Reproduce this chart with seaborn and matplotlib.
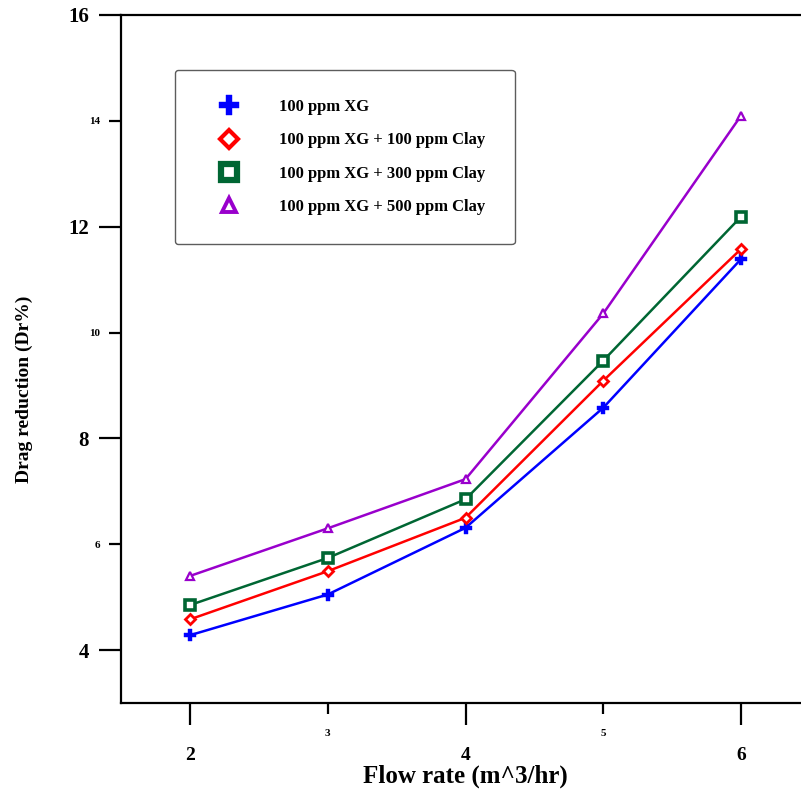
import matplotlib
matplotlib.use("Agg")
import matplotlib.pyplot as plt
from matplotlib.lines import Line2D
import seaborn as sns
import pandas as pd

flow_rate = [2, 3, 4, 5, 6]
xg = [4.28, 5.05, 6.31, 8.58, 11.39]
xg_clay100 = [4.58, 5.49, 6.50, 9.09, 11.58]
xg_clay300 = [4.85, 5.74, 6.85, 9.47, 12.19]
xg_clay500 = [5.40, 6.30, 7.23, 10.36, 14.10]
labels = ["100 ppm XG", "100 ppm XG + 100 ppm Clay",
          "100 ppm XG + 300 ppm Clay", "100 ppm XG + 500 ppm Clay"]

sns.set_theme(style="white")
plt.rcParams['font.family'] = ['Liberation Serif', 'DejaVu Serif']
plt.rcParams['xtick.bottom'] = True
plt.rcParams['ytick.left'] = True
plt.rcParams['text.color'] = 'black'
plt.rcParams['axes.labelcolor'] = 'black'
plt.rcParams['axes.labelweight'] = 'bold'

fig = plt.figure(figsize=(8.01, 7.93), dpi=100)
ax = fig.add_axes([121/801, 90/793, 689/801, 688/793])

series = [xg, xg_clay100, xg_clay300, xg_clay500]
colors = ["#0000FF", "#FF0000", "#006633", "#9900CC"]
styles = [dict(marker="P", markersize=8, markerfacecolor="#0000FF", markeredgecolor="#0000FF", markeredgewidth=0.3),
          dict(marker="D", markersize=5, markerfacecolor="white", markeredgecolor="#FF0000", markeredgewidth=2),
          dict(marker="s", markersize=6.5, markerfacecolor="white", markeredgecolor="#006633", markeredgewidth=2.6),
          dict(marker="^", markersize=6, markerfacecolor="white", markeredgecolor="#9900CC", markeredgewidth=1.6)]
leg_styles = [dict(marker="P", markersize=14, markerfacecolor="#0000FF", markeredgecolor="#0000FF", markeredgewidth=0.3),
              dict(marker="D", markersize=9, markerfacecolor="white", markeredgecolor="#FF0000", markeredgewidth=3),
              dict(marker="s", markersize=11, markerfacecolor="white", markeredgecolor="#006633", markeredgewidth=4.5),
              dict(marker="^", markersize=10, markerfacecolor="white", markeredgecolor="#9900CC", markeredgewidth=2.8)]

for vals, c, st in zip(series, colors, styles):
    df = pd.DataFrame({"x": flow_rate, "y": vals})
    sns.lineplot(data=df, x="x", y="y", color=c, linewidth=1.8, ax=ax, **st)

ax.set_xlim(1.5, 6.5)
ax.set_ylim(3, 16)

ax.set_xticks([2, 4, 6])
ax.set_xticks([3, 5], minor=True)
ax.set_yticks([4, 8, 12, 16])
ax.set_yticks([6, 10, 14], minor=True)
ax.set_xticklabels(["2", "4", "6"], fontsize=14, fontweight="bold")
ax.set_xticklabels(["3", "5"], minor=True, fontsize=8, fontweight="bold")
ax.set_yticklabels(["4", "8", "12", "16"], fontsize=15, fontweight="bold")
ax.set_yticklabels(["6", "10", "14"], minor=True, fontsize=8, fontweight="bold")

ax.tick_params(axis="x", which="major", direction="out", bottom=True, length=16, width=1.6, pad=16, colors="black")
ax.tick_params(axis="x", which="minor", direction="out", bottom=True, length=8, width=1.6, pad=11, colors="black")
ax.tick_params(axis="y", which="major", direction="out", left=True, length=16, width=1.6, pad=7, colors="black")
ax.tick_params(axis="y", which="minor", direction="out", left=True, length=9, width=1.6, pad=6, colors="black")

for s in ["left", "top", "bottom", "right"]:
    ax.spines[s].set_color("black")
    ax.spines[s].set_linewidth(1.6)

ax.set_xlabel("Flow rate (m^3/hr)", fontsize=18, fontweight="bold", color="black")
ax.set_ylabel("Drag reduction (Dr%)", fontsize=14, fontweight="bold", color="black")
ax.xaxis.set_label_coords(0.5, -62/688)
ax.yaxis.set_label_coords(-88/689, (703 - 389)/688)

handles = [Line2D([], [], linestyle="none", **st) for st in leg_styles]
leg = ax.legend(handles, labels, loc="upper left", bbox_to_anchor=(54/689, 1 - 55/688),
                bbox_transform=ax.transAxes, fancybox=True, frameon=True,
                prop=dict(family="Liberation Serif", weight="bold", size=12),
                labelspacing=1.04, borderpad=1.75, handletextpad=1.5, borderaxespad=0,
                handlelength=3.0)
leg.get_frame().set_edgecolor("#333333")
leg.get_frame().set_linewidth(1.0)

fig.savefig("out.png", dpi=100)
